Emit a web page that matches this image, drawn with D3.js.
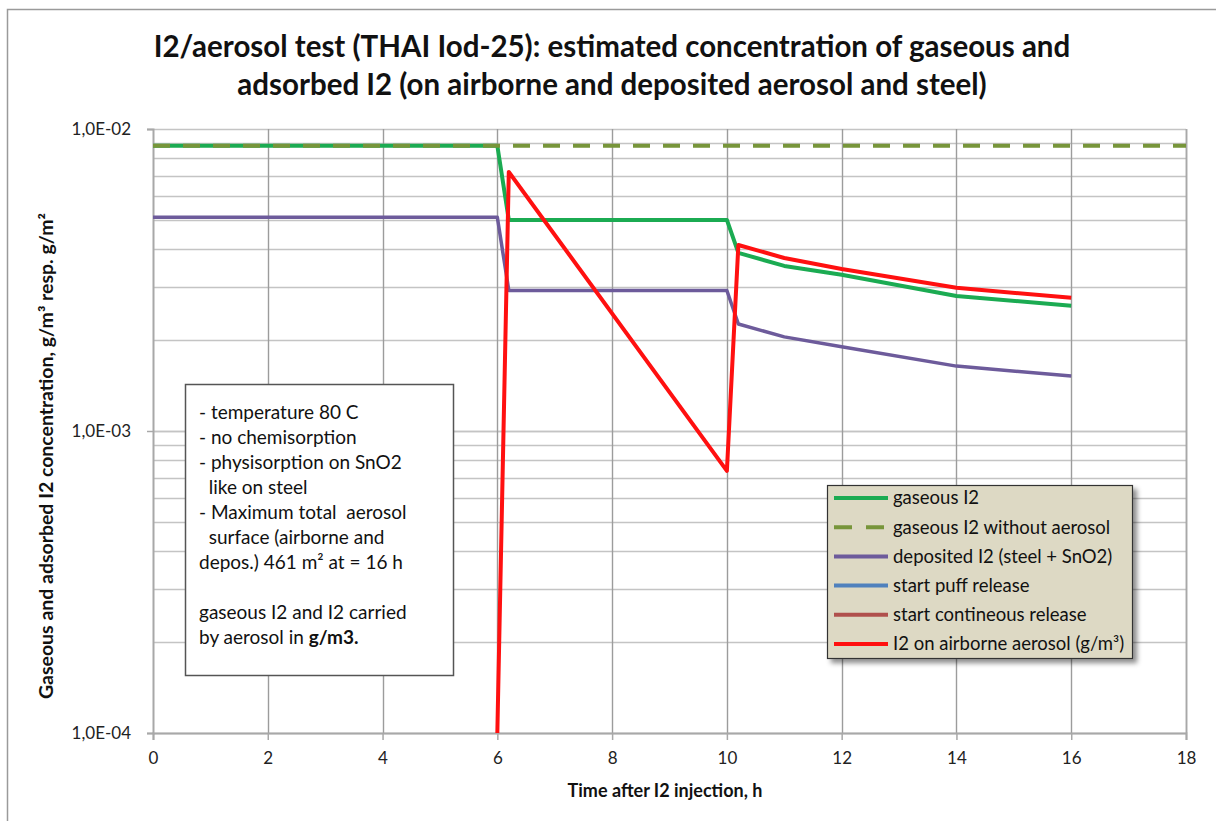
<!DOCTYPE html>
<html>
<head>
<meta charset="utf-8">
<script src="https://cdn.jsdelivr.net/npm/d3@7"></script>
<style>
  html, body { margin: 0; padding: 0; background: #fff; overflow: hidden; }
  svg { display: block; font-family: Lato, "Open Sans", sans-serif; }
</style>
</head>
<body>
<svg id="chart" width="1216" height="821"></svg>
<script>
// Time axis (hours after I2 injection) and concentrations (g/m3 resp. g/m2)
const timeMain = [0, 6, 6.2, 10, 10.2, 11, 12, 14, 16];
const gaseousI2 = [0.0088, 0.0088, 0.0050, 0.0050, 0.00389, 0.00352, 0.00329, 0.00280, 0.00260];
const depositedI2 = [0.0051, 0.0051, 0.00292, 0.00292, 0.00226, 0.00205, 0.00190, 0.00164, 0.00152];
const timeNoAerosol = [0, 18];
const gaseousNoAerosol = [0.0088, 0.0088];
const timeAerosol = [6, 6.2, 10, 10.2, 11, 12, 14, 16];
const airborneI2 = [0.0001, 0.00721, 0.000738, 0.00413, 0.00374, 0.00344, 0.00298, 0.00276];

const xTicks = [0, 2, 4, 6, 8, 10, 12, 14, 16, 18];
const yTicks = [1e-4, 1e-3, 1e-2];
const yTickLabels = ["1,0E-04", "1,0E-03", "1,0E-02"];

const titleLines = [
  "I2/aerosol test (THAI Iod-25): estimated concentration of gaseous and",
  "adsorbed I2 (on airborne and deposited aerosol and steel)"
];
const noteLines = [
  "- temperature 80 C",
  "- no chemisorption",
  "- physisorption on SnO2",
  "  like on steel",
  "- Maximum total  aerosol",
  "  surface (airborne and",
  "depos.) 461 m² at = 16 h",
  "",
  "gaseous I2 and I2 carried"
];

const series = [
  { name: "gaseous I2", color: "#1bab52", width: 4, dash: null, t: timeMain, v: gaseousI2 },
  { name: "gaseous I2 without aerosol", color: "#77953a", width: 4, dash: "17,13", t: timeNoAerosol, v: gaseousNoAerosol },
  { name: "deposited I2 (steel + SnO2)", color: "#6d5b9b", width: 3.5, dash: null, t: timeMain, v: depositedI2 },
  { name: "start puff release", color: "#4f81bd", width: 4, dash: null, t: [], v: [] },
  { name: "start contineous release", color: "#b0504d", width: 4, dash: null, t: [], v: [] },
  { name: "I2 on airborne aerosol (g/m³)", color: "#ff1010", width: 4, dash: null, t: timeAerosol, v: airborneI2 }
];
// draw order: green, purple, red, dashed on top of green
const drawOrder = [0, 2, 5, 1];

const svg = d3.select("#chart");
const plot = { left: 153, right: 1186, top: 129, bottom: 733 };

const x = d3.scaleLinear().domain([0, 18]).range([plot.left, plot.right]);
const y = d3.scaleLog().domain([1e-4, 1e-2]).range([plot.bottom, plot.top]);

// outer chart frame (runs past the right and bottom edges)
svg.append("rect")
  .attr("x", 7.5).attr("y", 9.5).attr("width", 1400).attr("height", 1000)
  .attr("fill", "none").attr("stroke", "#9a9a9a").attr("stroke-width", 1.5);

// title
svg.append("g").selectAll("text").data(titleLines).join("text")
  .attr("x", 612).attr("y", (d, i) => 57 + i * 38)
  .attr("text-anchor", "middle")
  .attr("font-size", 29.5).attr("font-weight", 700).attr("fill", "#111")
  .text(d => d);

// horizontal log gridlines (1..10 of each decade)
const minorVals = [];
for (let e = -4; e < -2; e++) {
  for (let k = 1; k <= 10; k++) minorVals.push(k * Math.pow(10, e));
}
svg.append("g").selectAll("line").data(minorVals).join("line")
  .attr("x1", plot.left).attr("x2", plot.right)
  .attr("y1", d => Math.round(y(d)) + 0.5).attr("y2", d => Math.round(y(d)) + 0.5)
  .attr("stroke", "#c4c4c4").attr("stroke-width", 1.6);

// vertical gridlines
svg.append("g").selectAll("line").data(xTicks.slice(1)).join("line")
  .attr("x1", d => Math.round(x(d)) + 0.5).attr("x2", d => Math.round(x(d)) + 0.5)
  .attr("y1", plot.top).attr("y2", plot.bottom)
  .attr("stroke", "#9c9c9c").attr("stroke-width", 1.4);

// axes
const xAxis = d3.axisBottom(x).tickValues(xTicks).tickSize(7).tickPadding(12).tickFormat(d3.format("d"));
const gx = svg.append("g").attr("transform", `translate(0,${plot.bottom})`).call(xAxis);
gx.select(".domain").attr("stroke", "#a8a8a8").attr("stroke-width", 2);
gx.selectAll(".tick line").attr("stroke", "#a8a8a8").attr("stroke-width", 1.5);
gx.selectAll(".tick text").attr("font-size", 17).attr("fill", "#222").attr("font-family", "Lato, sans-serif");

const yAxis = d3.axisLeft(y).tickValues(yTicks).tickSize(6).tickPadding(16)
  .tickFormat((d, i) => yTickLabels[i]);
const gy = svg.append("g").attr("transform", `translate(${plot.left},0)`).call(yAxis);
gy.select(".domain").attr("stroke", "#a8a8a8").attr("stroke-width", 2);
gy.selectAll(".tick line").attr("stroke", "#a8a8a8").attr("stroke-width", 1.5);
gy.selectAll(".tick text").attr("font-size", 17).attr("fill", "#222").attr("font-family", "Lato, sans-serif");

// right border of the plot area
svg.append("line")
  .attr("x1", plot.right + 0.5).attr("x2", plot.right + 0.5)
  .attr("y1", plot.top).attr("y2", plot.bottom)
  .attr("stroke", "#a8a8a8").attr("stroke-width", 1.6);

// axis titles
svg.append("text")
  .attr("x", 665).attr("y", 797)
  .attr("text-anchor", "middle").attr("font-size", 18).attr("font-weight", 700).attr("fill", "#111")
  .text("Time after I2 injection, h");
svg.append("text")
  .attr("transform", `translate(53,456) rotate(-90)`)
  .attr("text-anchor", "middle").attr("font-size", 18).attr("font-weight", 700).attr("fill", "#111")
  .attr("textLength", 486).attr("lengthAdjust", "spacingAndGlyphs")
  .text("Gaseous and adsorbed I2 concentration, g/m³ resp. g/m²");

// series lines
const defs = svg.append("defs");
defs.append("clipPath").attr("id", "plotClip")
  .append("rect").attr("x", plot.left).attr("y", plot.top - 3)
  .attr("width", plot.right - plot.left).attr("height", plot.bottom - plot.top + 3);

const line = d3.line().x(d => x(d[0])).y(d => y(d[1]));
const gLines = svg.append("g").attr("clip-path", "url(#plotClip)");
drawOrder.forEach(i => {
  const s = series[i];
  const pts = s.t.map((t, j) => [t, s.v[j]]);
  gLines.append("path")
    .attr("d", line(pts))
    .attr("fill", "none")
    .attr("stroke", s.color)
    .attr("stroke-width", s.width)
    .attr("stroke-linejoin", "round")
    .attr("stroke-dasharray", s.dash);
});

// note box
const note = svg.append("g");
note.append("rect")
  .attr("x", 185.5).attr("y", 384.5).attr("width", 268).attr("height", 291)
  .attr("fill", "#fff").attr("stroke", "#555").attr("stroke-width", 1.5);
note.selectAll("text.n").data(noteLines).join("text").attr("class", "n")
  .attr("x", 199).attr("y", (d, i) => 419 + i * 25)
  .attr("font-size", 19).attr("fill", "#111")
  .style("white-space", "pre")
  .text(d => d);
const lastLine = note.append("text")
  .attr("x", 199).attr("y", 419 + 9 * 25)
  .attr("font-size", 19).attr("fill", "#111");
lastLine.append("tspan").text("by aerosol in ");
lastLine.append("tspan").attr("font-weight", 700).text("g/m3.");

// legend
const leg = svg.append("g");
const filt = defs.append("filter").attr("id", "shadow").attr("x", "-10%").attr("y", "-10%")
  .attr("width", "130%").attr("height", "130%");
filt.append("feDropShadow").attr("dx", 4).attr("dy", 4).attr("stdDeviation", 2.5)
  .attr("flood-color", "#000").attr("flood-opacity", 0.45);
leg.append("rect")
  .attr("x", 827.5).attr("y", 485.5).attr("width", 305).attr("height", 173)
  .attr("fill", "#ddd9c4").attr("stroke", "#333").attr("stroke-width", 1.2)
  .attr("filter", "url(#shadow)");
const rows = leg.selectAll("g.row").data(series).join("g").attr("class", "row")
  .attr("transform", (d, i) => `translate(0,${498 + i * 29.2})`);
rows.append("line")
  .attr("x1", 834).attr("x2", 888).attr("y1", 0).attr("y2", 0)
  .attr("stroke", d => d.color).attr("stroke-width", 4)
  .attr("stroke-dasharray", d => d.dash ? "18,14" : null);
rows.append("text")
  .attr("x", 893).attr("y", 0).attr("dy", "0.35em")
  .attr("font-size", 18.5).attr("fill", "#111")
  .text(d => d.name);
</script>
</body>
</html>
